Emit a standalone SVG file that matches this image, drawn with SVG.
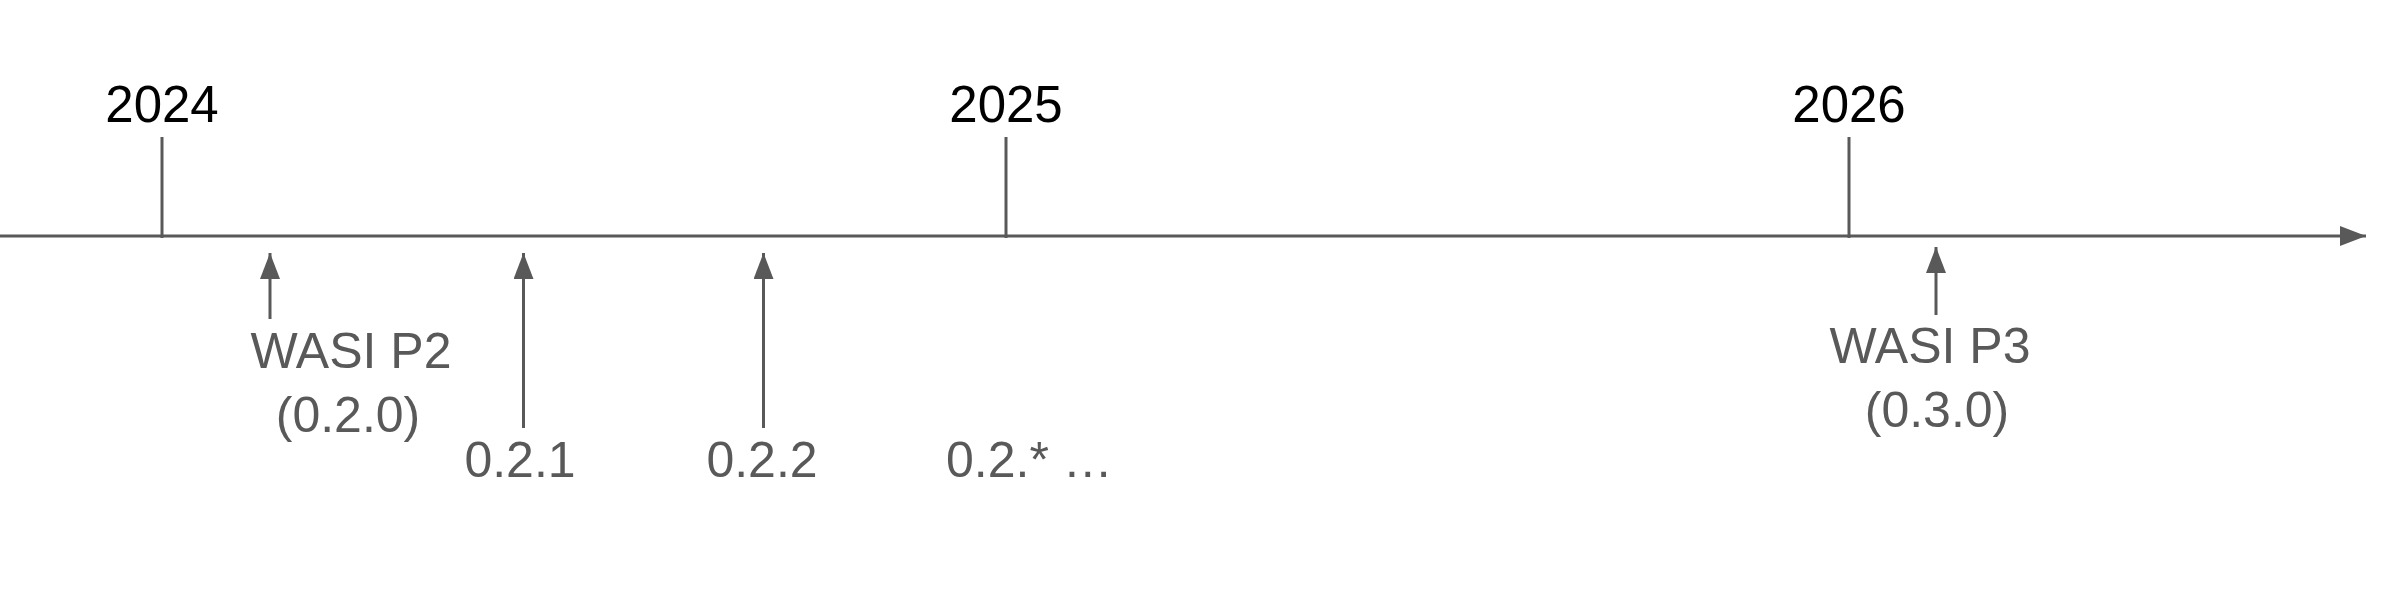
<svg xmlns="http://www.w3.org/2000/svg" width="2400" height="608" viewBox="0 0 2400 608">
<style>
.ln{stroke:#595959;stroke-width:3;fill:none}
.yr{font-family:"Liberation Sans",Arial,sans-serif;font-size:51px;fill:#000;text-anchor:middle}
.lb{font-family:"Liberation Sans",Arial,sans-serif;font-size:50px;fill:#595959;text-anchor:middle}
.st{text-anchor:start}
</style>
<defs>
<marker id="ah" markerUnits="userSpaceOnUse" markerWidth="28" markerHeight="22" refX="26" refY="10" orient="auto">
<path d="M0,0 L26,10 L0,20 Z" fill="#595959"/>
</marker>
</defs>
<rect width="2400" height="608" fill="#fff"/>
<g id="connectors">
<line class="ln" x1="0" y1="236" x2="2366" y2="236" marker-end="url(#ah)"/>
<line class="ln" x1="162" y1="137" x2="162" y2="238"/>
<line class="ln" x1="1006" y1="137" x2="1006" y2="238"/>
<line class="ln" x1="1849" y1="137" x2="1849" y2="238"/>
<line class="ln" x1="270" y1="319" x2="270" y2="253" marker-end="url(#ah)"/>
<line class="ln" x1="523.5" y1="428" x2="523.5" y2="253" marker-end="url(#ah)"/>
<line class="ln" x1="763.5" y1="428" x2="763.5" y2="253" marker-end="url(#ah)"/>
<line class="ln" x1="1936" y1="315" x2="1936" y2="247" marker-end="url(#ah)"/>
</g>
<g id="year2024"><text class="yr" x="162" y="122">2024</text></g>
<g id="year2025"><text class="yr" x="1006" y="122">2025</text></g>
<g id="year2026"><text class="yr" x="1849" y="122">2026</text></g>
<g id="p2"><text class="lb" x="351" y="368">WASI P2</text><text class="lb" x="348" y="432">(0.2.0)</text></g>
<g id="v021"><text class="lb" x="520" y="477">0.2.1</text></g>
<g id="v022"><text class="lb" x="762" y="477">0.2.2</text></g>
<g id="v02x"><text class="lb st" x="946" y="477">0.2.* …</text></g>
<g id="p3"><text class="lb" x="1930" y="363">WASI P3</text><text class="lb" x="1937" y="427">(0.3.0)</text></g>
</svg>
